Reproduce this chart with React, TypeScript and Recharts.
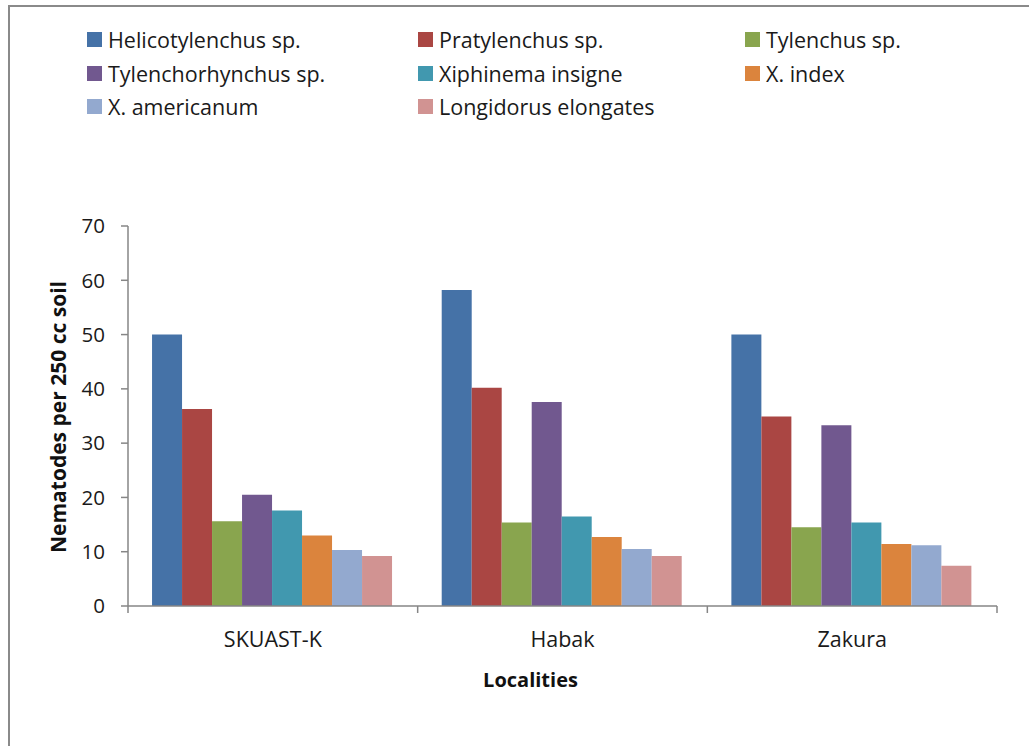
import React from 'react';
import { BarChart, Bar, XAxis, YAxis, Legend } from 'recharts';

const localities = ['SKUAST-K', 'Habak', 'Zakura'];
const helicotylenchus = [50, 58.2, 50];
const pratylenchus = [36.3, 40.2, 34.9];
const tylenchus = [15.6, 15.4, 14.5];
const tylenchorhynchus = [20.5, 37.6, 33.3];
const xiphinemaInsigne = [17.6, 16.5, 15.4];
const xIndex = [13.0, 12.7, 11.4];
const xAmericanum = [10.3, 10.5, 11.2];
const longidorus = [9.2, 9.2, 7.4];
const yTicks = [0, 10, 20, 30, 40, 50, 60, 70];

const seriesNames = [
  'Helicotylenchus sp.',
  'Pratylenchus sp.',
  'Tylenchus sp.',
  'Tylenchorhynchus sp.',
  'Xiphinema insigne',
  'X. index',
  'X. americanum',
  'Longidorus elongates',
];
const seriesValues = [
  helicotylenchus,
  pratylenchus,
  tylenchus,
  tylenchorhynchus,
  xiphinemaInsigne,
  xIndex,
  xAmericanum,
  longidorus,
];
const colors = ['#4572A7', '#AA4643', '#89A54E', '#71588F', '#4198AF', '#DB843D', '#93A9CF', '#D19392'];

const data = localities.map((loc, i) => {
  const row: Record<string, any> = { locality: loc };
  seriesNames.forEach((n, s) => {
    row[n] = seriesValues[s][i];
  });
  return row;
});

const FONT = "'Open Sans', 'DejaVu Sans', sans-serif";
const AXIS = '#868686';

const renderLegend = () => (
  <div
    style={{
      display: 'grid',
      gridTemplateColumns: '331px 327px 240px',
      gridAutoRows: '33.5px',
      fontFamily: FONT,
      fontSize: 21.5,
      color: '#1a1a1a',
    }}
  >
    {seriesNames.map((n, i) => (
      <div key={n} style={{ display: 'flex', alignItems: 'center', whiteSpace: 'nowrap' }}>
        <span
          style={{
            display: 'inline-block',
            width: 15,
            height: 15,
            background: colors[i],
            marginRight: 6,
          }}
        />
        <span>{n}</span>
      </div>
    ))}
  </div>
);

const XTick = (props: any) => {
  const { x, y, payload, index } = props;
  const off = payload && typeof payload.offset === 'number' ? payload.offset : 0;
  return (
    <g>
      {off > 0 && index === 0 && (
        <line x1={x - off} x2={x - off} y1={y - 7} y2={y} stroke={AXIS} strokeWidth={1.5} />
      )}
      {off > 0 && (
        <line x1={x + off} x2={x + off} y1={y - 7} y2={y} stroke={AXIS} strokeWidth={1.5} />
      )}
      <text x={x} y={y + 34} textAnchor="middle" fontFamily={FONT} fontSize={21.5} fill="#1a1a1a">
        {payload.value}
      </text>
    </g>
  );
};

export default function App() {
  return (
    <div
      style={{
        position: 'absolute',
        left: 0,
        top: 0,
        width: 1029,
        height: 746,
        overflow: 'hidden',
        background: '#fff',
      }}
    >
      <div
        style={{
          position: 'absolute',
          left: 8,
          top: 5,
          width: 1100,
          height: 800,
          border: '2px solid #8a8a8a',
          boxSizing: 'border-box',
        }}
      />
      <div style={{ position: 'absolute', left: 0, top: 0 }}>
        <BarChart
          width={1029}
          height={746}
          data={data}
          margin={{ top: 226, right: 32, bottom: 110, left: 40 }}
          barCategoryGap="8.3%"
          barGap={0}
        >
          <Legend
            layout="horizontal"
            verticalAlign="middle"
            align="center"
            wrapperStyle={{ top: 23, left: 87, width: 920 }}
            content={renderLegend}
          />
          <XAxis
            dataKey="locality"
            height={30}
            axisLine={{ stroke: AXIS, strokeWidth: 1.5 }}
            tickLine={false}
            tickSize={7}
            tickMargin={0}
            tick={<XTick />}
            interval={0}
            label={{
              content: (p: any) => {
                const vb = p.viewBox || {};
                return (
                  <text
                    x={vb.x + vb.width / 2 - 32}
                    y={vb.y + 81}
                    textAnchor="middle"
                    fontFamily={FONT}
                    fontWeight="bold"
                    fontSize={20}
                    fill="#111"
                  >
                    Localities
                  </text>
                );
              },
            }}
          />
          <YAxis
            width={88}
            domain={[0, 70]}
            ticks={yTicks}
            interval={0}
            tickSize={7}
            tickMargin={16}
            axisLine={{ stroke: AXIS, strokeWidth: 1.5 }}
            tickLine={{ stroke: AXIS, strokeWidth: 1.5 }}
            tick={{ fontFamily: FONT, fontSize: 20.5, fill: '#1a1a1a' }}
            label={{
              content: (p: any) => {
                const vb = p.viewBox || {};
                const cx = vb.x + 26;
                const cy = vb.y + vb.height / 2 + 1;
                return (
                  <text
                    x={cx}
                    y={cy}
                    transform={`rotate(-90, ${cx}, ${cy})`}
                    textAnchor="middle"
                    fontFamily={FONT}
                    fontWeight="bold"
                    fontSize={21}
                    fill="#111"
                  >
                    Nematodes per 250 cc soil
                  </text>
                );
              },
            }}
          />
          {seriesNames.map((n, i) => (
            <Bar key={n} dataKey={n} fill={colors[i]} isAnimationActive={false} />
          ))}
        </BarChart>
      </div>
    </div>
  );
}
